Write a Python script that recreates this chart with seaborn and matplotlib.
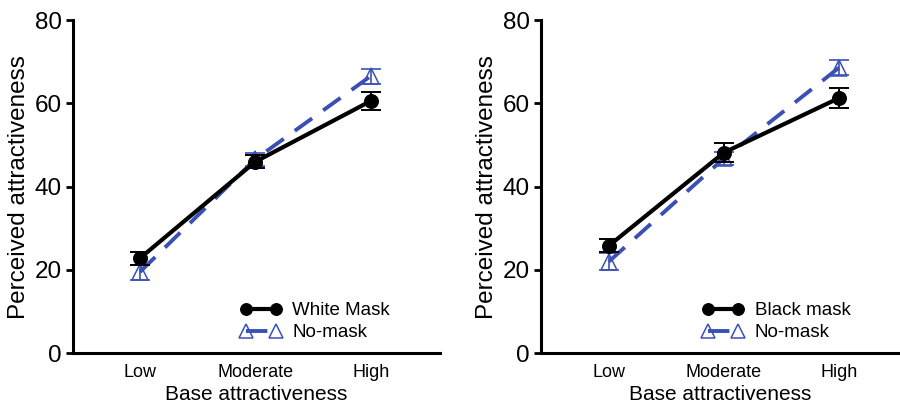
import numpy as np
import pandas as pd
import matplotlib
matplotlib.use("Agg")
import matplotlib.pyplot as plt
import seaborn as sns

categories = ["Low", "Moderate", "High"]

# Left panel
white_mask_mean = [22.8, 46.0, 60.6]
white_mask_err = [1.6, 1.5, 2.2]
nomask_left_mean = [19.5, 46.6, 66.6]
nomask_left_err = [1.8, 1.6, 1.8]

# Right panel
black_mask_mean = [25.8, 48.2, 61.3]
black_mask_err = [1.6, 2.3, 2.5]
nomask_right_mean = [22.0, 46.8, 68.6]
nomask_right_err = [2.0, 1.6, 1.8]

yticks = [0, 20, 40, 60, 80]

sns.set_theme(style="ticks")
plt.rcParams["font.family"] = ["Liberation Sans", "DejaVu Sans"]
plt.rcParams["text.color"] = "black"
plt.rcParams["axes.labelcolor"] = "black"
plt.rcParams["xtick.color"] = "black"
plt.rcParams["ytick.color"] = "black"

BLUE = "#3b50b5"
BLACK = "#000000"

fig = plt.figure(figsize=(9, 4.05), dpi=100)
ax1 = fig.add_axes([0.081, 0.128, 0.408, 0.822])
ax2 = fig.add_axes([0.601, 0.128, 0.399, 0.822])


def panel(ax, mask_label, mask_mean, mask_err, nm_mean, nm_err, xlim):
    x = np.arange(len(categories))
    df_nm = pd.DataFrame({"x": x, "y": nm_mean})
    df_m = pd.DataFrame({"x": x, "y": mask_mean})
    # No-mask series (blue dashed, hollow triangles)
    ax.errorbar(x, nm_mean, yerr=nm_err, fmt="none", ecolor=BLUE,
                elinewidth=1.2, capsize=7, capthick=1.2, zorder=2)
    sns.lineplot(data=df_nm, x="x", y="y", ax=ax, color=BLUE, sort=False,
                 linestyle=(0, (5.5, 3.5)), linewidth=2.8, marker="^",
                 markersize=12, markerfacecolor="none", markeredgecolor=BLUE,
                 markeredgewidth=1.1, label="No-mask", zorder=3)
    # Mask series (black solid, filled circles)
    ax.errorbar(x, mask_mean, yerr=mask_err, fmt="none", ecolor=BLACK,
                elinewidth=1.4, capsize=7, capthick=1.4, zorder=4)
    sns.lineplot(data=df_m, x="x", y="y", ax=ax, color=BLACK, sort=False,
                 linestyle="-", linewidth=3, marker="o", markersize=10,
                 markeredgecolor=BLACK, label=mask_label, zorder=5)

    ax.set_xlim(*xlim)
    ax.set_ylim(0, 80)
    ax.set_yticks(yticks)
    ax.set_yticklabels([str(v) for v in yticks], fontsize=17.5)
    ax.set_xticks(x)
    ax.set_xticklabels(categories, fontsize=13)
    ax.tick_params(axis="y", length=5, width=2, direction="out", pad=3)
    ax.tick_params(axis="x", length=0, pad=8)
    ax.set_xlabel("Base attractiveness", fontsize=15, labelpad=3)
    ax.set_ylabel("Perceived attractiveness", fontsize=17.5, labelpad=3)
    for s in ["top", "right"]:
        ax.spines[s].set_visible(False)
    for s in ["left", "bottom"]:
        ax.spines[s].set_linewidth(2.2)
        ax.spines[s].set_color("black")
    handles, labels = ax.get_legend_handles_labels()
    order = [labels.index(mask_label), labels.index("No-mask")]
    ax.legend([handles[i] for i in order], [labels[i] for i in order],
              loc="lower right", bbox_to_anchor=(0.91, -0.015), frameon=False,
              fontsize=13.5, numpoints=2, handlelength=2.2, handletextpad=0.6,
              labelspacing=0.25, markerscale=0.85)


panel(ax1, "White Mask", white_mask_mean, white_mask_err,
      nomask_left_mean, nomask_left_err, (-0.58, 2.6))
panel(ax2, "Black mask", black_mask_mean, black_mask_err,
      nomask_right_mean, nomask_right_err, (-0.59, 2.53))

fig.savefig("out.png", dpi=100)
